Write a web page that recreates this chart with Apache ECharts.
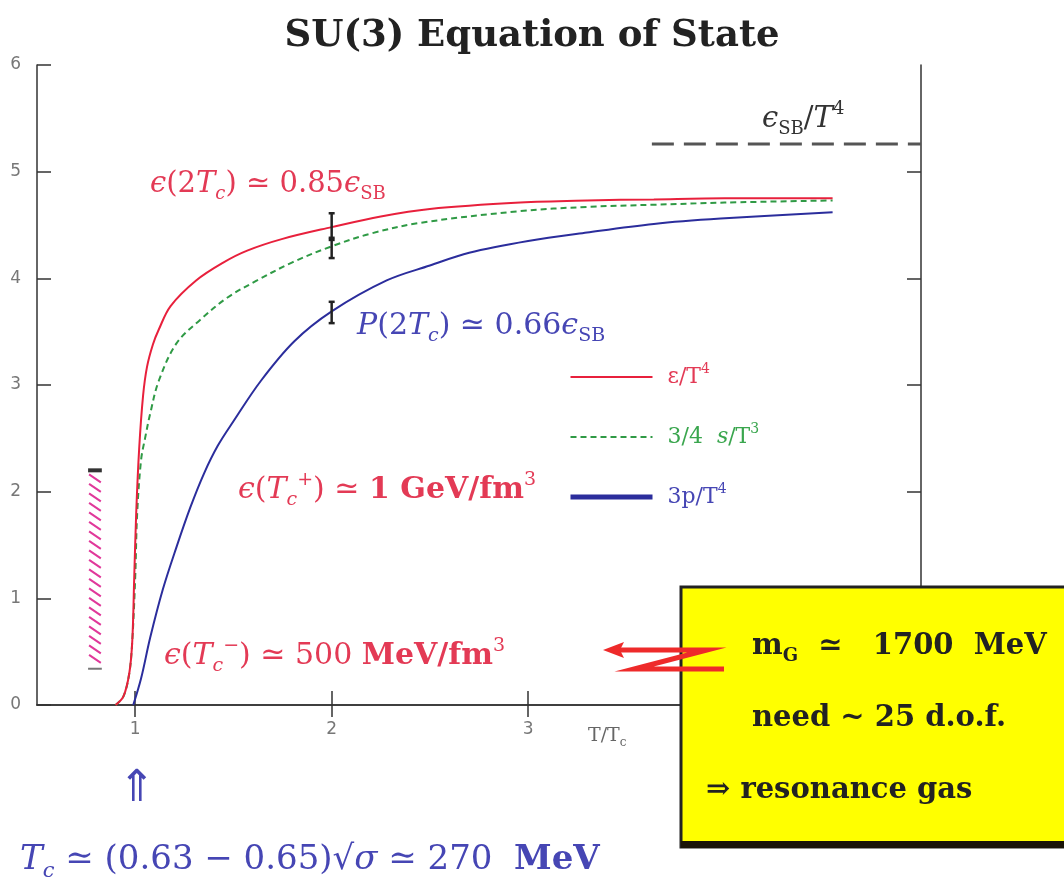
<!DOCTYPE html>
<html>
<head>
<meta charset="utf-8">
<script src="https://cdn.jsdelivr.net/npm/echarts@6/dist/echarts.min.js"></script>
<style>
html,body{margin:0;padding:0;background:#fff;}
#c{width:1064px;height:885px;}
</style>
</head>
<body>
<div id="c"></div>
<script>
// ---------------- data ----------------
const titleText = 'SU(3) Equation of State';
const xTickValues = [1, 2, 3, 4];
const xLabelValues = [1, 2, 3];
const yTickValues = [0, 1, 2, 3, 4, 5, 6];
const rightTickValues = [1, 2, 3, 4, 5];

// energy density eps/T^4
const epsData = [[0.90,0],[0.94,0.08],[0.97,0.3],[0.985,0.6],[0.995,1.2],[1.005,1.8],[1.02,2.4],[1.04,2.9],[1.06,3.17],[1.09,3.38],[1.12,3.52],[1.18,3.74],[1.31,3.98],[1.45,4.15],[1.57,4.26],[1.75,4.37],[2.0,4.48],[2.25,4.58],[2.5,4.65],[2.96,4.71],[3.3,4.73],[3.64,4.74],[4.0,4.75],[4.55,4.75]];
// 3/4 s/T^3
const entData = [[0.90,0],[0.94,0.08],[0.97,0.3],[0.985,0.6],[1.0,1.2],[1.01,1.8],[1.03,2.3],[1.05,2.5],[1.076,2.73],[1.12,3.04],[1.21,3.39],[1.33,3.61],[1.47,3.82],[1.62,3.98],[1.8,4.15],[2.0,4.30],[2.2,4.42],[2.45,4.52],[2.96,4.63],[3.3,4.67],[3.64,4.69],[4.0,4.71],[4.55,4.73]];
// 3p/T^4
const presData = [[0.99,0],[1.03,0.25],[1.076,0.63],[1.14,1.08],[1.21,1.48],[1.28,1.85],[1.35,2.17],[1.42,2.43],[1.50,2.66],[1.64,3.04],[1.81,3.41],[2.0,3.69],[2.28,3.98],[2.5,4.12],[2.70,4.24],[3.0,4.35],[3.30,4.43],[3.64,4.51],[3.98,4.56],[4.55,4.62]];
// Stefan-Boltzmann limit
const sbData = [[3.63,5.26],[5.0,5.26]];
// error bars at 2Tc: [x, low, high]
const errData = [[2,4.36,4.61],[2,4.19,4.38],[2,3.58,3.78]];
// hadron-gas band: [x0, x1, y0, y1]
const bandData = [[0.76,0.83,0.34,2.2]];

// ---------------- styles ----------------
const RED = '#e8203c', RED_T = '#e33a55', GREEN = '#2f9a45', BLUE = '#2b2d9c', BLUE_T = '#4646b4';
const SERIF = '"DejaVu Serif","Liberation Serif",serif';

function rich(color, size, bold) {
  const w = bold ? 'bold' : 'normal';
  const base = {fontFamily: SERIF, fontSize: size, color: color, fontWeight: w, lineHeight: Math.round(size*1.3)};
  return {
    n: Object.assign({}, base),
    i: Object.assign({}, base, {fontStyle: 'italic'}),
    b: Object.assign({}, base, {fontWeight: 'bold'}),
    s: {fontFamily: SERIF, fontSize: Math.round(size*0.62), color: color, fontWeight: w, verticalAlign: 'bottom', lineHeight: Math.round(size*0.75)},
    si: {fontFamily: SERIF, fontSize: Math.round(size*0.62), color: color, fontStyle: 'italic', verticalAlign: 'bottom', lineHeight: Math.round(size*0.75)},
    p: {fontFamily: SERIF, fontSize: Math.round(size*0.62), color: color, fontWeight: w, verticalAlign: 'top', lineHeight: Math.round(size*0.75)}
  };
}
function txt(x, y, text, color, size, opts) {
  opts = opts || {};
  return {
    type: 'text', x: x, y: y, z: opts.z || 50,
    style: {
      text: text, rich: rich(color, size, opts.bold),
      fill: color, font: (opts.bold ? 'bold ' : '') + size + 'px ' + SERIF,
      align: opts.align || 'left', verticalAlign: 'middle'
    }
  };
}

const chart = echarts.init(document.getElementById('c'), null, {renderer: 'canvas'});

const axisLine = {show: true, lineStyle: {color: '#333', width: 1.5}};
const labelStyle = {color: '#777', fontSize: 17, fontFamily: '"DejaVu Sans",sans-serif'};

const option = {
  backgroundColor: '#fff',
  animation: false,
  title: {
    text: titleText, left: 527, top: 13, textAlign: 'center',
    textStyle: {fontFamily: SERIF, fontWeight: 'bold', fontSize: 37, color: '#222'}
  },
  grid: {left: 37, right: 143, top: 65, bottom: 180},
  legend: {
    data: [
      {name: 'eps'},
      {name: 'ent'},
      {name: 'pres', lineStyle: {width: 5}}
    ],
    orient: 'vertical', left: 563, top: 357,
    itemWidth: 82, itemHeight: 14, itemGap: 34,
    selectedMode: false,
    itemStyle: {opacity: 0},
    formatter: function (name) {
      if (name === 'eps') return '{r|ε/T}{rp|4}';
      if (name === 'ent') return '{g|3/4  }{gi|s}{g|/T}{gp|3}';
      return '{b|3p/T}{bp|4}';
    },
    textStyle: {
      padding: [0, 0, 0, 10],
      rich: {
        r: {color: RED_T, fontFamily: SERIF, fontSize: 22, lineHeight: 30},
        rp: {color: RED_T, fontFamily: SERIF, fontSize: 14, verticalAlign: 'top', lineHeight: 18},
        g: {color: '#3aa64e', fontFamily: SERIF, fontSize: 22, lineHeight: 30},
        gi: {color: '#3aa64e', fontFamily: SERIF, fontStyle: 'italic', fontSize: 22, lineHeight: 30},
        gp: {color: '#3aa64e', fontFamily: SERIF, fontSize: 14, verticalAlign: 'top', lineHeight: 18},
        b: {color: BLUE_T, fontFamily: SERIF, fontSize: 22, lineHeight: 30},
        bp: {color: BLUE_T, fontFamily: SERIF, fontSize: 14, verticalAlign: 'top', lineHeight: 18}
      }
    }
  },
  xAxis: [
    {
      type: 'value', position: 'bottom', min: 0.5, max: 5,
      axisLine: axisLine, splitLine: {show: false},
      axisTick: {show: true, inside: true, length: 14, customValues: xTickValues, lineStyle: {color: '#333', width: 1.5}},
      axisLabel: Object.assign({customValues: xLabelValues, margin: 16}, labelStyle)
    },
    {
      type: 'value', position: 'top', min: 0.5, max: 5,
      axisLine: axisLine, splitLine: {show: false},
      axisTick: {show: true, inside: true, length: 12, customValues: xTickValues, lineStyle: {color: '#333', width: 1.5}},
      axisLabel: {show: false}
    }
  ],
  yAxis: [
    {
      type: 'value', position: 'left', min: 0, max: 6, interval: 1,
      axisLine: axisLine, splitLine: {show: false},
      axisTick: {show: true, inside: true, length: 14, customValues: yTickValues, lineStyle: {color: '#333', width: 1.5}},
      axisLabel: Object.assign({customValues: yTickValues, margin: 16}, labelStyle)
    },
    {
      type: 'value', position: 'right', min: 0, max: 6, interval: 1,
      axisLine: axisLine, splitLine: {show: false},
      axisTick: {show: true, inside: true, length: 14, customValues: rightTickValues, lineStyle: {color: '#333', width: 1.5}},
      axisLabel: {show: false}
    }
  ],
  series: [
    {
      name: 'sb', type: 'line', data: sbData, symbol: 'none', z: 3,
      lineStyle: {color: '#555', width: 3, type: [22, 10]}
    },
    {
      name: 'eps', type: 'line', data: epsData, symbol: 'none', smooth: 0.35, z: 5,
      lineStyle: {color: RED, width: 2}, itemStyle: {color: RED}
    },
    {
      name: 'ent', type: 'line', data: entData, symbol: 'none', smooth: 0.35, z: 4,
      lineStyle: {color: GREEN, width: 2, type: [6, 4]}, itemStyle: {color: GREEN}
    },
    {
      name: 'pres', type: 'line', data: presData, symbol: 'none', smooth: 0.35, z: 4,
      lineStyle: {color: BLUE, width: 2}, itemStyle: {color: BLUE}
    },
    {
      name: 'err', type: 'custom', data: errData, z: 6,
      renderItem: function (params, api) {
        const x = api.value(0);
        const lo = api.coord([x, api.value(1)]);
        const hi = api.coord([x, api.value(2)]);
        const st = {stroke: '#222', lineWidth: 2.5};
        return {type: 'group', children: [
          {type: 'line', shape: {x1: lo[0], y1: lo[1], x2: hi[0], y2: hi[1]}, style: st},
          {type: 'line', shape: {x1: lo[0]-3, y1: lo[1], x2: lo[0]+3, y2: lo[1]}, style: st},
          {type: 'line', shape: {x1: hi[0]-3, y1: hi[1], x2: hi[0]+3, y2: hi[1]}, style: st}
        ]};
      }
    },
    {
      name: 'band', type: 'custom', data: bandData, z: 3,
      renderItem: function (params, api) {
        const p0 = api.coord([api.value(0), api.value(2)]);
        const p1 = api.coord([api.value(1), api.value(3)]);
        const left = p0[0], right = p1[0], bottom = p0[1], top = p1[1];
        const children = [];
        for (let y = top + 8; y < bottom - 2; y += 9.5) {
          children.push({type: 'line', shape: {x1: left + 1, y1: y - 4, x2: right - 1, y2: y + 4},
            style: {stroke: '#e0389a', lineWidth: 2}});
        }
        children.push({type: 'rect', shape: {x: left, y: top - 2, width: right - left, height: 4}, style: {fill: '#333'}});
        children.push({type: 'rect', shape: {x: left, y: bottom - 1, width: right - left, height: 2}, style: {fill: '#777'}});
        return {type: 'group', children: children};
      }
    }
  ],
  graphic: [
    // annotations
    txt(150, 184, '{i|ϵ}{n|(2}{i|T}{si|c}{n|) ≃ 0.85}{i|ϵ}{s|SB}', RED_T, 29),
    txt(357, 326, '{i|P}{n|(2}{i|T}{si|c}{n|) ≃ 0.66}{i|ϵ}{s|SB}', BLUE_T, 30),
    txt(238, 490, '{i|ϵ}{n|(}{i|T}{si|c}{p|+}{n|) ≃ }{b|1 GeV/fm}{p|3}', RED_T, 30),
    txt(164, 656, '{i|ϵ}{n|(}{i|T}{si|c}{p|−}{n|) ≃ 500 }{b|MeV/fm}{p|3}', RED_T, 30),
    txt(762, 119, '{i|ϵ}{s|SB}{n|/}{i|T}{p|4}', '#333', 29),
    txt(588, 736, '{n|T/T}{s|c}', '#666', 19),
    {type: 'text', x: 137, y: 790, z: 50, style: {text: '⇑', fill: BLUE_T, font: '44px "DejaVu Sans",sans-serif', align: 'center', verticalAlign: 'middle'}},
    txt(20, 860, '{i|T}{si|c}{n| ≃ (0.63 − 0.65)√}{i|σ}{n| ≃ 270  }{b|MeV}', BLUE_T, 34),
    // yellow box
    {type: 'rect', z: 100, shape: {x: 681, y: 587, width: 420, height: 260}, style: {fill: '#ffff00', stroke: '#222', lineWidth: 3}},
    {type: 'rect', z: 101, shape: {x: 681, y: 841, width: 420, height: 7}, style: {fill: '#1a1408'}},
    txt(752, 646, '{n|m}{s|G}{n|  ≃   1700  MeV}', '#222', 29, {bold: true, z: 102}),
    txt(752, 718, '{n|need ~ 25 d.o.f.}', '#222', 29, {bold: true, z: 102}),
    txt(706, 790, '{n|⇒ resonance gas}', '#222', 29, {bold: true, z: 102}),
    // red zigzag arrow
    {type: 'polyline', z: 110, shape: {points: [[612, 650], [707, 650], [634, 669], [724, 669]]},
      style: {stroke: '#ee2a2a', lineWidth: 5, fill: null, lineJoin: 'miter'}},
    {type: 'polygon', z: 110, shape: {points: [[603, 650], [624, 642], [620, 650], [624, 658]]},
      style: {fill: '#ee2a2a'}}
  ]
};
chart.setOption(option);
</script>
</body>
</html>
